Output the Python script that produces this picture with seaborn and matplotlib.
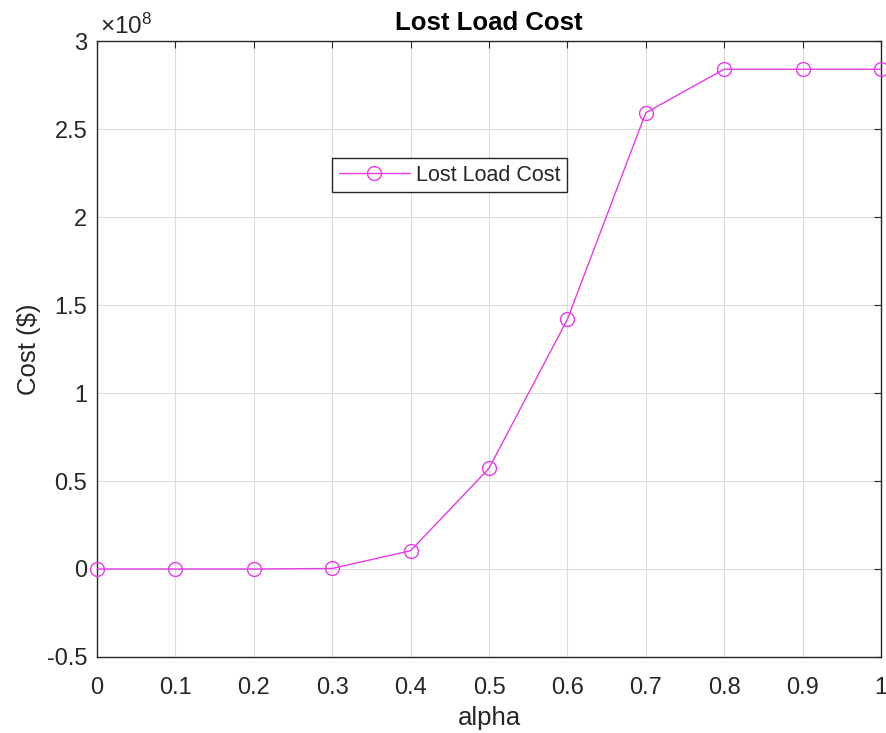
import matplotlib
matplotlib.use("Agg")
import matplotlib.pyplot as plt
import seaborn as sns
import pandas as pd

alpha = [0.0, 0.1, 0.2, 0.3, 0.4, 0.5, 0.6, 0.7, 0.8, 0.9, 1.0]
cost = [0.0, 0.0, 0.0, 0.003e8, 0.104e8, 0.572e8, 1.419e8, 2.593e8, 2.84e8, 2.84e8, 2.84e8]
x_ticks = [0, 0.1, 0.2, 0.3, 0.4, 0.5, 0.6, 0.7, 0.8, 0.9, 1]
x_tick_labels = ["0", "0.1", "0.2", "0.3", "0.4", "0.5", "0.6", "0.7", "0.8", "0.9", "1"]
y_ticks = [-0.5e8, 0, 0.5e8, 1e8, 1.5e8, 2e8, 2.5e8, 3e8]
y_tick_labels = ["-0.5", "0", "0.5", "1", "1.5", "2", "2.5", "3"]

sns.set_style("white")
plt.rcParams['font.family'] = ['Liberation Sans', 'DejaVu Sans']
plt.rcParams['mathtext.fontset'] = 'custom'
plt.rcParams['mathtext.rm'] = 'Liberation Sans'
plt.rcParams['mathtext.it'] = 'Liberation Sans'

df = pd.DataFrame({"alpha": alpha, "cost": cost})
txt = "#262626"
line_c = "#e83ae8"

fig = plt.figure(figsize=(8.87, 7.33), dpi=100)
ax = fig.add_axes([0.1094, 0.1037, 0.8838, 0.8403])

sns.lineplot(data=df, x="alpha", y="cost", ax=ax, color=line_c, linewidth=1.0,
             marker="o", markersize=10, markerfacecolor="none", markeredgecolor=line_c,
             markeredgewidth=1.0, label="Lost Load Cost", clip_on=False, zorder=3)

ax.set_xlim(0, 1)
ax.set_ylim(-0.5e8, 3e8)
ax.set_xticks(x_ticks)
ax.set_xticklabels(x_tick_labels)
ax.set_yticks(y_ticks)
ax.set_yticklabels(y_tick_labels)
ax.text(0.004, 1.003, r"$\times10^{8}$", transform=ax.transAxes, ha="left", va="bottom",
        fontsize=17.5, color=txt)

ax.grid(True, color="#dcdcdc", linewidth=0.8)
ax.set_axisbelow(True)
for s in ax.spines.values():
    s.set_color(txt)
    s.set_linewidth(1.0)
ax.tick_params(direction="in", top=True, right=True, length=5, width=0.8,
               colors=txt, labelsize=17, labelcolor=txt)
ax.tick_params(axis="x", pad=14.5)
ax.tick_params(axis="y", pad=7)

ax.set_xlabel("alpha", fontsize=18.5, color=txt, labelpad=5)
ax.set_ylabel(r"Cost (\$)", fontsize=18.5, color=txt, labelpad=4)
ax.set_title("Lost Load Cost", fontsize=18.5, fontweight="bold", color="black", pad=8)

leg = ax.legend(loc="center", bbox_to_anchor=(0.45, 0.782), fontsize=15.5,
                frameon=True, fancybox=False, framealpha=1, edgecolor=txt,
                handlelength=3.3, borderpad=0.3, handletextpad=0.3, borderaxespad=0)
leg.get_frame().set_linewidth(1.0)

fig.savefig("out.png", dpi=100)
